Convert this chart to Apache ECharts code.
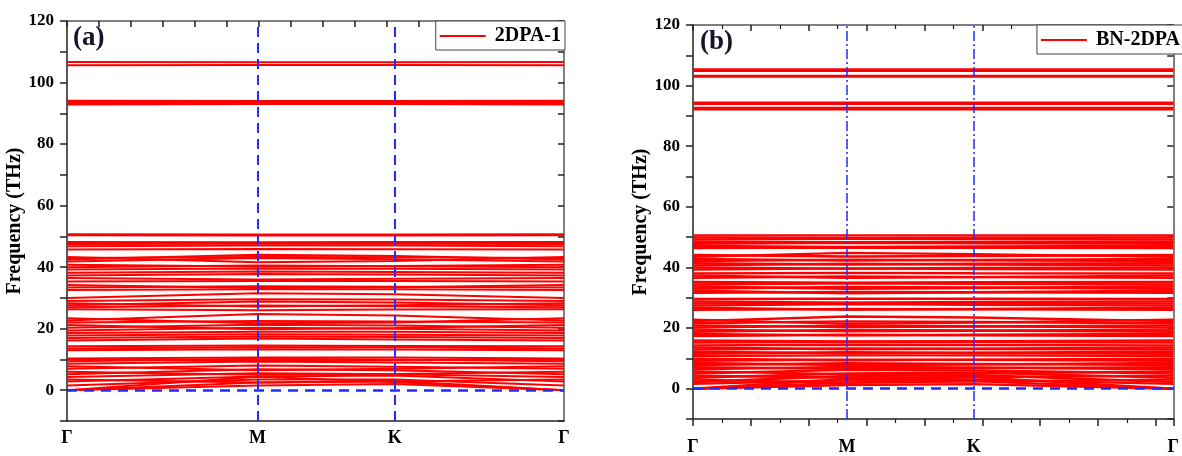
<!DOCTYPE html>
<html>
<head>
<meta charset="utf-8">
<script src="https://cdn.jsdelivr.net/npm/echarts@6/dist/echarts.min.js"></script>
<style>
  html, body { margin: 0; padding: 0; background: #fff; }
  #main { width: 1182px; height: 456px; }
</style>
</head>
<body>
<div id="main"></div>
<script>
// k-path labels and positions (axis units) of the high-symmetry points
const kLabels = ['Γ', 'M', 'K', 'Γ'];
const kPathA = [0, 5.95, 10.24, 15.53];
const kPathB = [0, 2.66, 4.85, 8.30];

// phonon bands, frequency (THz) at Γ, M, K, Γ
const highBandsA = [
  [106.7, 106.6, 106.6, 106.7], [105.6, 105.7, 105.7, 105.6],
  [94.1, 94.0, 94.0, 94.1], [93.7, 93.6, 93.6, 93.7], [93.3, 93.4, 93.4, 93.3], [92.9, 93.0, 93.0, 92.9]
];
const lowBandsA = [
  [0, 2.5, 3.0, 0], [0, 1.5, 2.0, 0], [0, 4.4, 2.7, 0],
  [1.5, 3.5, 3.5, 1.5], [2.8, 4.5, 4.8, 2.8], [3.5, 2.5, 2.8, 3.5],
  [4.3, 5.5, 5.2, 4.3], [5.2, 6.8, 6.5, 5.2], [6.0, 5.0, 5.3, 6.0],
  [7.0, 8.0, 7.6, 7.0], [7.8, 6.5, 7.0, 7.8], [8.6, 9.3, 9.0, 8.6],
  [9.4, 10.2, 10.0, 9.4], [10.3, 10.6, 10.6, 10.3], [10.0, 9.6, 9.8, 10.0],
  [13.0, 13.3, 13.2, 13.0], [13.6, 14.0, 14.0, 13.6], [14.3, 14.5, 14.4, 14.3],
  [16.2, 16.8, 16.5, 16.2], [17.0, 17.5, 17.3, 17.0], [17.8, 18.2, 18.0, 17.8],
  [18.6, 19.0, 19.0, 18.6], [19.4, 20.3, 20.0, 19.4], [20.3, 21.3, 21.0, 20.3],
  [21.2, 19.8, 20.2, 21.2], [22.0, 22.5, 22.3, 22.0], [22.7, 24.8, 24.3, 22.7],
  [23.4, 21.8, 22.0, 23.4],
  [26.3, 26.0, 26.2, 26.3], [27.0, 27.5, 27.3, 27.0], [27.6, 28.8, 28.5, 27.6],
  [28.3, 27.2, 27.6, 28.3], [29.0, 29.6, 29.5, 29.0], [30.0, 31.5, 31.2, 30.0],
  [32.6, 32.8, 32.8, 32.6], [33.4, 33.8, 33.6, 33.4], [34.2, 33.2, 33.5, 34.2],
  [35.3, 35.5, 35.5, 35.3], [36.5, 36.0, 36.2, 36.5], [37.3, 37.8, 37.6, 37.3],
  [38.2, 38.6, 38.4, 38.2], [39.2, 39.6, 39.5, 39.2], [40.0, 40.5, 40.3, 40.0],
  [40.8, 40.2, 40.4, 40.8], [41.8, 43.0, 42.6, 41.8], [42.5, 44.0, 43.6, 42.5],
  [43.3, 41.6, 42.0, 43.3], [43.0, 43.3, 43.2, 43.0],
  [45.7, 45.9, 45.8, 45.7], [46.8, 47.0, 47.0, 46.8], [47.5, 47.6, 47.6, 47.5],
  [48.2, 48.1, 48.2, 48.2], [50.4, 50.3, 50.3, 50.4], [50.7, 50.6, 50.6, 50.7]
];
const highBandsB = [
  [105.3, 105.3, 105.3, 105.3], [104.9, 104.9, 104.9, 104.9],
  [103.2, 103.2, 103.2, 103.2], [103.0, 103.0, 103.0, 103.0],
  [94.4, 94.4, 94.4, 94.4], [94.0, 94.0, 94.0, 94.0],
  [92.6, 92.6, 92.6, 92.6], [92.2, 92.2, 92.2, 92.2]
];
const lowBandsB = [
  [0, 2.0, 2.5, 0], [0, 1.2, 1.5, 0], [0, 3.2, 3.8, 0],
  [1.6, 2.8, 3.0, 1.6], [2.2, 4.2, 4.5, 2.2], [3.0, 2.0, 2.4, 3.0],
  [3.6, 5.0, 5.3, 3.6], [4.3, 3.6, 3.8, 4.3], [5.0, 6.2, 6.0, 5.0],
  [5.7, 4.8, 5.0, 5.7], [6.4, 7.2, 7.0, 6.4], [7.1, 6.6, 6.8, 7.1],
  [7.8, 8.4, 8.2, 7.8], [8.5, 7.8, 8.0, 8.5], [9.2, 9.6, 9.5, 9.2],
  [9.9, 9.4, 9.6, 9.9],
  [10.8, 11.0, 11.0, 10.8], [11.5, 12.0, 11.8, 11.5], [12.2, 11.7, 11.9, 12.2],
  [12.9, 13.3, 13.1, 12.9], [13.6, 13.0, 13.2, 13.6], [14.3, 14.5, 14.4, 14.3],
  [15.2, 15.5, 15.4, 15.2], [15.9, 15.6, 15.7, 15.9],
  [17.4, 17.8, 17.6, 17.4], [18.1, 17.6, 17.8, 18.1], [18.8, 19.4, 19.2, 18.8],
  [19.5, 18.9, 19.1, 19.5], [20.2, 20.8, 20.6, 20.2], [20.9, 20.3, 20.5, 20.9],
  [21.6, 22.2, 22.0, 21.6], [22.3, 23.8, 23.5, 22.3], [22.8, 21.4, 21.8, 22.8],
  [26.0, 26.3, 26.2, 26.0], [26.7, 26.1, 26.3, 26.7], [27.4, 27.9, 27.7, 27.4],
  [28.1, 28.3, 28.2, 28.1], [28.8, 28.4, 28.6, 28.8], [29.6, 29.7, 29.7, 29.6],
  [31.6, 31.9, 31.8, 31.6], [32.3, 31.5, 31.8, 32.3], [33.0, 33.6, 33.4, 33.0],
  [33.7, 33.0, 33.2, 33.7], [34.4, 34.8, 34.6, 34.4], [35.2, 35.0, 35.1, 35.2],
  [36.6, 37.0, 36.8, 36.6], [37.3, 36.6, 36.8, 37.3], [38.0, 38.2, 38.1, 38.0],
  [39.3, 39.7, 39.5, 39.3], [40.0, 39.6, 39.8, 40.0], [40.7, 41.2, 41.0, 40.7],
  [41.4, 41.0, 41.2, 41.4], [42.1, 42.6, 42.4, 42.1], [42.8, 42.3, 42.5, 42.8],
  [43.5, 44.8, 44.4, 43.5], [44.1, 43.6, 43.8, 44.1],
  [46.4, 46.6, 46.5, 46.4], [47.1, 46.8, 46.9, 47.1], [47.8, 48.1, 48.0, 47.8],
  [48.5, 48.3, 48.4, 48.5], [49.2, 49.5, 49.4, 49.2], [49.9, 49.7, 49.8, 49.9],
  [50.6, 50.6, 50.6, 50.6]
];
const nameA = '2DPA-1';
const nameB = 'BN-2DPA';

const font = 'Liberation Serif';
const axisColor = '#222';

function bandSeries(bands, kPath, name, idx, width) {
  return bands.map(b => ({
    name: name,
    type: 'line',
    xAxisIndex: idx * 2,
    yAxisIndex: idx * 2,
    symbol: 'none',
    silent: true,
    z: 2,
    lineStyle: { color: '#ff0000', width: width },
    itemStyle: { color: '#ff0000' },
    data: kPath.map((x, i) => [x, b[i]])
  }));
}

function guideSeries(kPath, idx, vType, vWidth) {
  return {
    type: 'line',
    xAxisIndex: idx * 2,
    yAxisIndex: idx * 2,
    data: [],
    silent: true,
    z: 5,
    markLine: {
      symbol: 'none',
      silent: true,
      animation: false,
      label: { show: false },
      data: [
        { xAxis: kPath[1], lineStyle: { color: '#1f2bff', width: vWidth, type: vType } },
        { xAxis: kPath[2], lineStyle: { color: '#1f2bff', width: vWidth, type: vType } },
        { yAxis: 0, lineStyle: { color: '#1f2bff', width: 2.5, type: [10, 7] } }
      ]
    }
  };
}

function xAxes(kPath, idx, bottomTicks) {
  const end = kPath[kPath.length - 1];
  return [
    {
      gridIndex: idx, type: 'value', position: 'bottom', min: 0, max: end, interval: 1,
      axisLine: { show: true, onZero: false, lineStyle: { color: axisColor, width: 1.5 } },
      axisTick: { show: bottomTicks, inside: false, length: 7, lineStyle: { color: axisColor, width: 1.5 } },
      minorTick: { show: bottomTicks, splitNumber: 2, length: 4, lineStyle: { color: axisColor, width: 1.2 } },
      splitLine: { show: false },
      axisLabel: {
        customValues: kPath,
        margin: idx === 0 ? 8 : 19,
        fontFamily: font, fontWeight: 'bold', fontSize: 18, color: '#000',
        formatter: v => { const i = kPath.indexOf(v); return i >= 0 ? kLabels[i] : ''; }
      }
    },
    {
      gridIndex: idx, type: 'value', position: 'top', min: 0, max: end, interval: 1,
      axisLine: { show: true, onZero: false, lineStyle: { color: '#555', width: 1.5 } },
      axisTick: { show: true, inside: true, length: 6, lineStyle: { color: axisColor, width: 1.5 } },
      minorTick: { show: idx === 1, splitNumber: 2, length: 4, lineStyle: { color: axisColor, width: 1.2 } },
      splitLine: { show: false },
      axisLabel: { show: false }
    }
  ];
}

function yAxes(idx, nameGap) {
  return [
    {
      gridIndex: idx, type: 'value', position: 'left', min: -10, max: 120, interval: 10,
      name: 'Frequency (THz)', nameLocation: 'middle', nameGap: nameGap,
      nameTextStyle: { fontFamily: font, fontWeight: 'bold', fontSize: 20, color: '#000' },
      axisLine: { show: true, onZero: false, lineStyle: { color: axisColor, width: 1.5 } },
      axisTick: { show: true, inside: false, length: 7, lineStyle: { color: axisColor, width: 1.5 } },
      splitLine: { show: false },
      axisLabel: {
        margin: 13, fontFamily: font, fontWeight: 'bold', fontSize: 17, color: '#000',
        formatter: v => (v >= 0 && v % 20 === 0 ? String(v) : '')
      }
    },
    {
      gridIndex: idx, type: 'value', position: 'right', min: -10, max: 120, interval: 10,
      axisLine: { show: true, onZero: false, lineStyle: { color: '#555', width: 1.5 } },
      axisTick: { show: true, inside: true, length: 6, lineStyle: { color: axisColor, width: 1.5 } },
      splitLine: { show: false },
      axisLabel: { show: false }
    }
  ];
}

const legendBase = {
  orient: 'horizontal',
  backgroundColor: '#fff',
  borderColor: '#444',
  borderWidth: 1,
  padding: [5, 4, 4, 4],
  itemWidth: 46,
  itemHeight: 2,
  itemGap: 0,
  textStyle: { fontFamily: font, fontWeight: 'bold', fontSize: 20, color: '#000', padding: [0, 0, 0, 4] }
};

const chart = echarts.init(document.getElementById('main'));
chart.setOption({
  animation: false,
  backgroundColor: '#fff',
  grid: [
    { left: 67, top: 21, width: 497, height: 400 },
    { left: 693, top: 25, width: 487, height: 395 }
  ],
  xAxis: [...xAxes(kPathA, 0, false), ...xAxes(kPathB, 1, true)],
  yAxis: [...yAxes(0, 37), ...yAxes(1, 29)],
  legend: [
    Object.assign({}, legendBase, { data: [{ name: nameA, icon: 'rect' }], right: 617, top: 21 }),
    Object.assign({}, legendBase, { data: [{ name: nameB, icon: 'rect' }], right: -2, top: 25 })
  ],
  graphic: [
    { type: 'text', left: 73, top: 25, z: 10,
      style: { text: '(a)', font: 'bold 27px "Liberation Serif"', fill: '#14142e' } },
    { type: 'text', left: 700, top: 29, z: 10,
      style: { text: '(b)', font: 'bold 27px "Liberation Serif"', fill: '#14142e' } }
  ],
  series: [
    ...bandSeries(highBandsA.concat(lowBandsA), kPathA, nameA, 0, 2),
    ...bandSeries(highBandsB.concat(lowBandsB), kPathB, nameB, 1, 2.4),
    guideSeries(kPathA, 0, [10, 6], 2),
    guideSeries(kPathB, 1, [10, 3, 2, 3], 1.5)
  ]
});
</script>
</body>
</html>
